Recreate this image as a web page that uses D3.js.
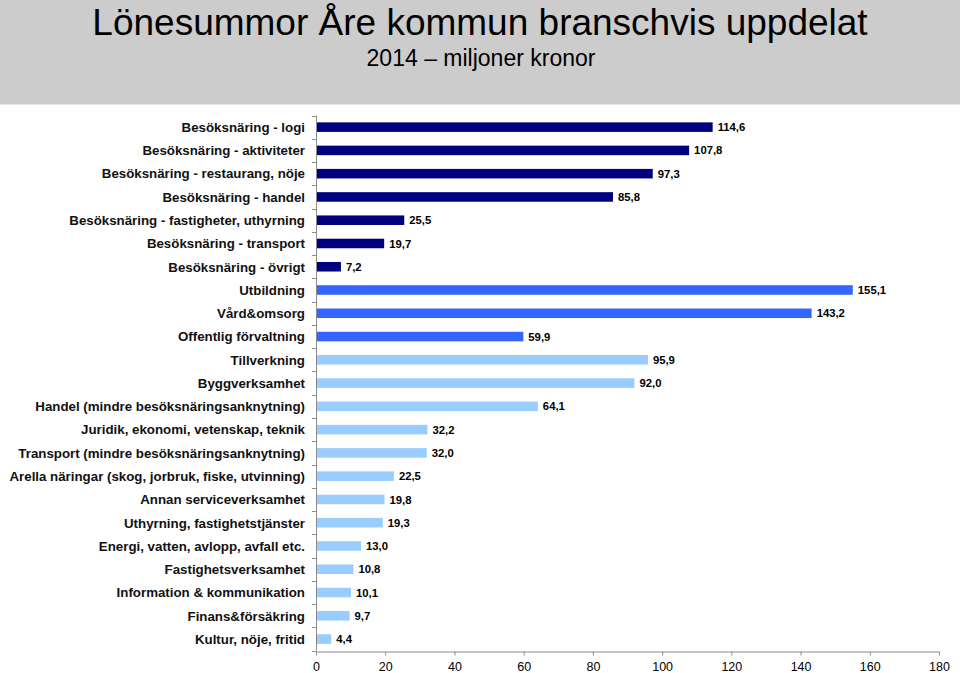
<!DOCTYPE html>
<html><head><meta charset="utf-8">
<script src="https://cdn.jsdelivr.net/npm/d3@7"></script>
<style>
html,body{margin:0;padding:0;background:#fff;}
svg{display:block;font-family:"Liberation Sans",Arial,sans-serif;}
</style></head>
<body>
<script>
const title = "Lönesummor Åre kommun branschvis uppdelat";
const subtitle = "2014 – miljoner kronor";
const categories = [
  "Besöksnäring - logi",
  "Besöksnäring - aktiviteter",
  "Besöksnäring - restaurang, nöje",
  "Besöksnäring - handel",
  "Besöksnäring - fastigheter, uthyrning",
  "Besöksnäring - transport",
  "Besöksnäring - övrigt",
  "Utbildning",
  "Vård&omsorg",
  "Offentlig förvaltning",
  "Tillverkning",
  "Byggverksamhet",
  "Handel (mindre besöksnäringsanknytning)",
  "Juridik, ekonomi, vetenskap, teknik",
  "Transport (mindre besöksnäringsanknytning)",
  "Arella näringar (skog, jorbruk, fiske, utvinning)",
  "Annan serviceverksamhet",
  "Uthyrning, fastighetstjänster",
  "Energi, vatten, avlopp, avfall etc.",
  "Fastighetsverksamhet",
  "Information & kommunikation",
  "Finans&försäkring",
  "Kultur, nöje, fritid"
];
const values = [114.6, 107.8, 97.3, 85.8, 25.5, 19.7, 7.2, 155.1, 143.2, 59.9, 95.9, 92.0, 64.1, 32.2, 32.0, 22.5, 19.8, 19.3, 13.0, 10.8, 10.1, 9.7, 4.4];
const groups = ["besok","besok","besok","besok","besok","besok","besok","offentlig","offentlig","offentlig",
  "ovrigt","ovrigt","ovrigt","ovrigt","ovrigt","ovrigt","ovrigt","ovrigt","ovrigt","ovrigt","ovrigt","ovrigt","ovrigt"];
const xTicks = [0, 20, 40, 60, 80, 100, 120, 140, 160, 180];

const colorMap = {besok: "#000080", offentlig: "#3366FF", ovrigt: "#99CCFF"};
const data = categories.map((c, i) => ({cat: c, value: values[i], group: groups[i]}));

const W = 960, H = 673;
const svg = d3.select("body").append("svg").attr("width", W).attr("height", H);

// header
svg.append("rect").attr("x", 0).attr("y", 0).attr("width", W).attr("height", 104).attr("fill", "#cccccc");
svg.append("line").attr("x1", 0).attr("x2", W).attr("y1", 104.5).attr("y2", 104.5).attr("stroke", "#e6e6e6");
svg.append("text").attr("x", 480).attr("y", 35).attr("text-anchor", "middle")
  .attr("font-size", 37).attr("fill", "#000").text(title);
svg.append("text").attr("x", 481).attr("y", 66).attr("text-anchor", "middle")
  .attr("font-size", 23).attr("fill", "#000").text(subtitle);

const x0 = 316, x1 = 939;
const x = d3.scaleLinear().domain([0, 180]).range([x0, x1]);
const y = d3.scaleBand().domain(categories).range([115.5, 650.7]).paddingInner(0.59).paddingOuter(0.295);
const step = y.step();

const locale = d3.formatLocale({decimal: ",", thousands: " ", grouping: [3], currency: ["", " kr"]});
const fmt = locale.format(".1f");

// bars
svg.append("g").selectAll("rect").data(data).join("rect")
  .attr("x", x(0))
  .attr("y", d => y(d.cat))
  .attr("width", d => x(d.value) - x(0))
  .attr("height", y.bandwidth())
  .attr("fill", d => colorMap[d.group]);

// value labels
svg.append("g").selectAll("text").data(data).join("text")
  .attr("x", d => x(d.value) + 5)
  .attr("y", d => y(d.cat) + y.bandwidth() / 2)
  .attr("dy", "0.36em")
  .attr("font-size", 11.3).attr("font-weight", "bold").attr("fill", "#000")
  .text(d => fmt(d.value));

// y axis line and ticks at boundaries
const axisG = svg.append("g");
const yTop = y(categories[0]) + y.bandwidth() / 2 - step / 2;
const yBot = y(categories[categories.length - 1]) + y.bandwidth() / 2 + step / 2;
axisG.append("line").attr("x1", x0 + 0.5).attr("x2", x0 + 0.5).attr("y1", yTop).attr("y2", yBot)
  .attr("stroke", "#8c8c8c");
const bounds = categories.map(c => y(c) + y.bandwidth() / 2 - step / 2).concat([yBot]);
axisG.selectAll("line.tk").data(bounds).join("line").attr("class", "tk")
  .attr("x1", x0 - 4).attr("x2", x0 + 0.5)
  .attr("y1", d => Math.round(d) + 0.5).attr("y2", d => Math.round(d) + 0.5)
  .attr("stroke", "#8c8c8c");

// y labels
svg.append("g").selectAll("text").data(categories).join("text")
  .attr("x", 305)
  .attr("y", d => y(d) + y.bandwidth() / 2)
  .attr("dy", "0.36em")
  .attr("text-anchor", "end")
  .attr("font-size", 13.3).attr("font-weight", "bold").attr("fill", "#111")
  .text(d => d);

// x axis
const xAxis = d3.axisBottom(x).tickValues(xTicks).tickSize(4).tickSizeOuter(0).tickPadding(7).tickFormat(d3.format("d"));
const gx = svg.append("g").attr("transform", `translate(0,${Math.round(yBot) + 0.5})`).call(xAxis);
gx.select(".domain").attr("stroke", "#8c8c8c");
gx.selectAll(".tick line").attr("stroke", "#8c8c8c");
gx.selectAll(".tick text").attr("font-size", 12.5).attr("font-family", "Liberation Sans, Arial, sans-serif").attr("fill", "#000");
</script>
</body></html>
